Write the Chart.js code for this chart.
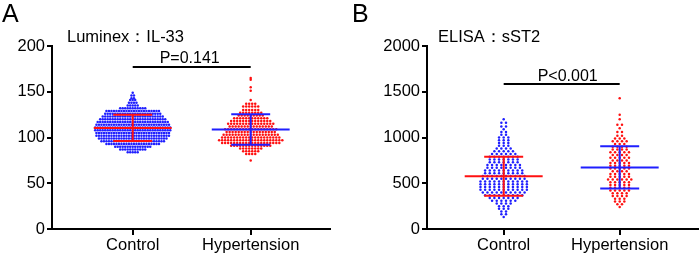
<!DOCTYPE html>
<html><head><meta charset="utf-8">
<script src="https://cdn.jsdelivr.net/npm/chart.js@4.4.1/dist/chart.umd.min.js"></script>
<style>
html,body{margin:0;padding:0;background:#fff;}
#wrap{position:relative;width:700px;height:256px;overflow:hidden;background:#fff;}
.p{position:absolute;top:0;width:350px;height:256px;}
</style></head><body>
<div id="wrap">
<div class="p" style="left:0"><canvas id="cA" width="350" height="256"></canvas></div>
<div class="p" style="left:350px"><canvas id="cB" width="350" height="256"></canvas></div>
</div>
<script>
// ---------- data ----------
const categories = ['Control', 'Hypertension'];

// Panel A (Luminex：IL-33): dot rows -> value level and number of dots on that row
const ctrlA_levels = [149,146,143,141,138,135,132,129,126,123,120,117,114,111,108,105,102,99,96,93,90,87,84];
const ctrlA_counts = [1,2,2,3,4,5,11,22,23,25,27,29,30,31,31,30,30,28,26,22,15,11,5];
const hypA_levels  = [165,163,155,151,141,137,134,130,127,124,121,118,115,112,109,106,103,100,97,94,91,88,85,82,75];
const hypA_counts  = [1,1,1,1,1,4,6,6,8,9,12,14,16,15,18,17,19,20,22,20,14,8,6,4,1];
const meanA = [110.5, 108.7];
const sdA   = [14.4, 16.6];
const yTicksA = [0, 50, 100, 150, 200];
const pBarA = 177;

// Panel B (ELISA：sST2)
const ctrlB_levels = [1200,1160,1120,1090,1060,1030,1000,970,940,910,880,850,820,790,760,730,700,670,640,610,580,550,520,490,460,430,400,370,340,310,280,250,220,190,160,130];
const ctrlB_counts = [1,2,2,1,2,2,3,3,3,3,4,5,6,7,7,7,8,8,9,9,10,10,11,11,11,11,10,9,7,6,4,3,3,2,2,1];
const hypB_levels  = [1430,1250,1200,1140,1100,1060,1020,990,960,930,900,870,840,810,780,750,720,690,660,630,600,570,540,510,480,450,420,390,360,330,300,270,240];
const hypB_counts  = [1,1,1,2,1,2,2,3,4,3,4,4,5,4,5,4,5,5,5,4,5,5,6,5,5,5,5,4,4,3,3,2,1];
const meanB = [576, 673];
const sdB   = [213, 231];
const yTicksB = [0, 500, 1000, 1500, 2000];
const pBarB = 1585;

const pTexts = ['P=0.141', 'P<0.001'];
const titles = ['Luminex：IL-33', 'ELISA：sST2'];
const letters = ['A', 'B'];

// ---------- drawing ----------
const FONT = '"Liberation Sans", Arial, Helvetica, sans-serif';
const BLUE = '#1f1fff', RED = '#ff1010';

function swarm(levels, counts, cx, pitch) {
  const pts = [];
  levels.forEach((v, k) => {
    const n = counts[k];
    for (let i = 0; i < n; i++) pts.push({x: cx + (i - (n - 1) / 2) * pitch, y: v});
  });
  return pts;
}
function seg(a, b, color) {
  return {type: 'line', data: [a, b], showLine: true, borderColor: color, borderWidth: 2,
          pointRadius: 0, borderCapStyle: 'butt', order: 0, tension: 0, clip: false};
}
function errBars(cx, m, s, color, hm, hc) {
  return [
    seg({x: cx - hm, y: m}, {x: cx + hm, y: m}, color),
    seg({x: cx - hc, y: m + s}, {x: cx + hc, y: m + s}, color),
    seg({x: cx - hc, y: m - s}, {x: cx + hc, y: m - s}, color),
    seg({x: cx, y: m - s}, {x: cx, y: m + s}, color)
  ];
}
function dots(data, color) {
  return {type: 'scatter', data, backgroundColor: color, borderWidth: 0,
          pointRadius: 1.25, pointHoverRadius: 1.25, order: 1};
}

const textPlugin = {
  id: 'txt',
  afterDraw(chart) {
    const o = chart.options.plugins.txt;
    const ctx = chart.ctx, xs = chart.scales.x, ys = chart.scales.y;
    ctx.save();
    ctx.fillStyle = '#000';
    ctx.textBaseline = 'alphabetic';
    ctx.textAlign = 'left';
    ctx.font = '25px ' + FONT;
    ctx.fillText(o.letter, o.letterX, 22);
    ctx.font = '16.5px ' + FONT;
    ctx.fillText(o.title, chart.chartArea.left + o.titleDx, 42);
    ctx.font = '16px ' + FONT;
    ctx.textAlign = 'center';
    const cx = (xs.getPixelForValue(1) + xs.getPixelForValue(2)) / 2;
    ctx.fillText(o.p, cx + o.pDx, ys.getPixelForValue(o.pBar) - o.pGap);
    ctx.restore();
  }
};

function makeChart(id, cfg) {
  const tickFont = {family: FONT, size: cfg.tickSize};
  return new Chart(document.getElementById(id), {
    type: 'scatter',
    data: {datasets: [
      dots(swarm(cfg.c.levels, cfg.c.counts, 1, cfg.pitchC), BLUE),
      dots(swarm(cfg.h.levels, cfg.h.counts, 2, cfg.pitchH), RED),
      ...errBars(1, cfg.mean[0], cfg.sd[0], RED, cfg.hm, cfg.hc),
      ...errBars(2, cfg.mean[1], cfg.sd[1], BLUE, cfg.hm, cfg.hc),
      seg({x: 1, y: cfg.pBar}, {x: 2, y: cfg.pBar}, '#000')
    ]},
    options: {
      responsive: false, animation: false, devicePixelRatio: 1,
      layout: {padding: {top: 46, right: cfg.padRight, left: 0, bottom: 0}},
      plugins: {legend: {display: false}, tooltip: {enabled: false},
        txt: {letter: cfg.letter, letterX: cfg.letterX, title: cfg.title, titleDx: cfg.titleDx,
              p: cfg.p, pBar: cfg.pBar, pGap: cfg.pGap, pDx: cfg.pDx}},
      scales: {
        x: {type: 'linear', min: cfg.xmin, max: cfg.xmax,
            afterBuildTicks(s) { s.ticks = [{value: 1}, {value: 2}]; },
            afterFit(s) { s.height = 27; },
            ticks: {callback: v => categories[v - 1], font: tickFont, color: '#000', padding: 1,
                    maxRotation: 0, autoSkip: false},
            grid: {display: true, drawOnChartArea: false, drawTicks: true, tickLength: 6, color: '#000', lineWidth: 2},
            border: {display: true, color: '#000', width: 2}},
        y: {type: 'linear', min: 0, max: cfg.ymax,
            afterBuildTicks(s) { s.ticks = cfg.yTicks.map(v => ({value: v})); },
            afterFit(s) { s.width = cfg.yWidth; },
            ticks: {font: tickFont, color: '#000', padding: 2, callback: v => String(v)},
            grid: {display: true, drawOnChartArea: false, drawTicks: true, tickLength: 5, color: '#000', lineWidth: 2},
            border: {display: true, color: '#000', width: 2}}
      }
    },
    plugins: [textPlugin]
  });
}

makeChart('cA', {
  c: {levels: ctrlA_levels, counts: ctrlA_counts}, h: {levels: hypA_levels, counts: hypA_counts},
  mean: meanA, sd: sdA, yTicks: yTicksA, ymax: 200, pBar: pBarA,
  pitchC: 0.0212, pitchH: 0.0255, hm: 0.33, hc: 0.165,
  xmin: 0.316, xmax: 2.672, yWidth: 52, padRight: 20, tickSize: 16.5,
  letter: letters[0], letterX: 2, title: titles[0], titleDx: 15, p: pTexts[0], pGap: 4, pDx: -2
});
makeChart('cB', {
  c: {levels: ctrlB_levels, counts: ctrlB_counts}, h: {levels: hypB_levels, counts: hypB_counts},
  mean: meanB, sd: sdB, yTicks: yTicksB, ymax: 2000, pBar: pBarB,
  pitchC: 0.04, pitchH: 0.04, hm: 0.336, hc: 0.168,
  xmin: 0.339, xmax: 2.675, yWidth: 77, padRight: 2, tickSize: 16.5,
  letter: letters[1], letterX: 2, title: titles[1], titleDx: 11, p: pTexts[1], pGap: 3, pDx: 6
});
</script>
</body></html>
